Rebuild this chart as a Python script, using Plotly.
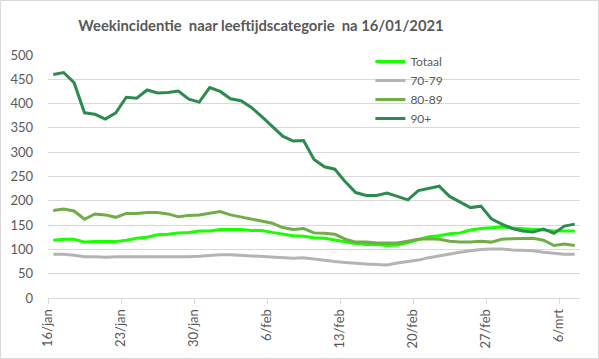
import plotly.graph_objects as go
import pandas as pd

start = "2021-01-16"
n_days = 51
dates = pd.date_range(start, periods=n_days, freq="D") + pd.Timedelta(hours=12)

totaal = [119, 121, 121, 115, 116, 116, 116, 119, 123, 125, 130, 131, 134,
          135, 138, 138, 141, 141, 141, 139, 139, 135, 132, 128, 127, 124,
          123, 119, 115, 112, 110, 110, 108, 109, 114, 120, 126, 128, 132,
          134, 140, 143, 145, 146, 144, 143, 141, 140, 138, 138, 138]
g70_79 = [90, 90, 88, 85, 85, 84, 85, 85, 84, 85, 84, 84, 84,
          85, 86, 88, 89, 89, 88, 87, 86, 84, 83, 82, 83, 80,
          77, 75, 73, 71, 70, 69, 68, 72, 75, 78, 83, 87, 90,
          94, 97, 100, 101, 101, 99, 98, 97, 94, 92, 90, 90]
g80_89 = [180, 183, 179, 162, 173, 171, 166, 174, 174, 176, 176, 173, 167,
          170, 171, 174, 178, 171, 167, 163, 158, 154, 145, 141, 143, 134,
          133, 131, 121, 115, 115, 113, 113, 113, 117, 121, 122, 121, 117,
          115, 115, 117, 115, 121, 122, 123, 123, 119, 108, 111, 108]
g90 = [460, 464, 443, 381, 378, 368, 381, 413, 411, 428, 422, 423, 426,
       409, 403, 433, 425, 410, 406, 392, 373, 352, 333, 323, 324, 285,
       270, 265, 239, 217, 211, 211, 216, 209, 202, 221, 226, 230, 209,
       198, 186, 189, 163, 152, 143, 138, 136, 142, 133, 148, 152]

tick_dates = ["2021-01-16", "2021-01-23", "2021-01-30", "2021-02-06",
              "2021-02-13", "2021-02-20", "2021-02-27", "2021-03-06"]
tick_labels = ["16/jan", "23/jan", "30/jan", "6/feb", "13/feb", "20/feb",
               "27/feb", "6/mrt"]
y_ticks = [0, 50, 100, 150, 200, 250, 300, 350, 400, 450, 500]

series = [("Totaal", totaal, "#1AFF00"),
          ("70-79", g70_79, "#B4B4B4"),
          ("80-89", g80_89, "#70AD47"),
          ("90+", g90, "#2E8B50")]

FONT = "Lato"
fig = go.Figure()
for name, vals, col in series:
    fig.add_trace(go.Scatter(x=dates, y=vals, name=name, mode="lines",
                             line=dict(color=col, width=3)))

fig.update_layout(
    width=599, height=359,
    margin=dict(l=48, r=19, t=55, b=61),
    paper_bgcolor="white", plot_bgcolor="white",
    font=dict(family=FONT, size=12, color="#595959"),
    title=dict(text="<b>Weekincidentie  naar leeftijdscategorie  na 16/01/2021</b>",
               x=261/599, xanchor="center", xref="container",
               y=1-26/359, yanchor="middle", yref="container",
               font=dict(family=FONT, size=14.8, color="#595959")),
    showlegend=True,
    legend=dict(x=0.606, y=1.033, xanchor="left", yanchor="top",
                bgcolor="rgba(0,0,0,0)", font=dict(size=12, color="#595959"),
                tracegroupgap=0),
    xaxis=dict(type="date", range=[start, "2021-03-08"], automargin=False,
               tickvals=tick_dates, ticktext=tick_labels, tickangle=-90,
               showgrid=False, showline=True, linecolor="#D9D9D9", linewidth=1,
               ticks="outside", ticklen=5, tickcolor="#D9D9D9",
               tickfont=dict(size=13), zeroline=False),
    yaxis=dict(range=[0, 500], tickvals=y_ticks, showgrid=True, automargin=False,
               gridcolor="#D9D9D9", gridwidth=1, zeroline=False,
               showline=False, ticks="", ticklabelstandoff=14,
               tickfont=dict(size=13)),
)
fig.add_shape(type="rect", xref="paper", yref="paper",
              x0=-47.5/532, x1=1+18.5/532, y0=-60.5/243, y1=1+54.5/243,
              line=dict(color="#D9D9D9", width=1), fillcolor="rgba(0,0,0,0)",
              layer="below")
fig.write_html("out.html", config={"displayModeBar": False},
               post_script="document.body.style.margin='0';document.body.style.overflow='hidden';")
